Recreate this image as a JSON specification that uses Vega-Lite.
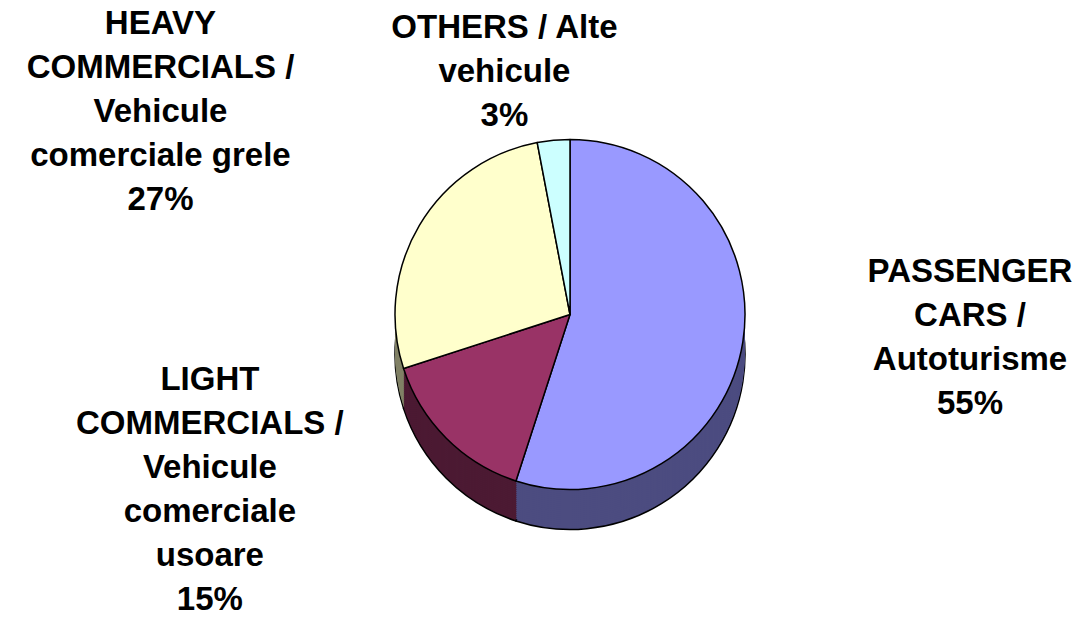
{
  "$schema": "https://vega.github.io/schema/vega-lite/v6.json",
  "width": 1020,
  "height": 605,
  "autosize": "none",
  "padding": {"left": 60, "top": 12, "right": 0, "bottom": 0},
  "background": "white",
  "config": {"view": {"stroke": null}},
  "data": {
    "values": [
      {"category": "PASSENGER CARS / Autoturisme", "value": 55, "order": 1, "label": "PASSENGER\nCARS /\nAutoturisme\n55%"},
      {"category": "LIGHT COMMERCIALS / Vehicule comerciale usoare", "value": 15, "order": 2, "label": "LIGHT\nCOMMERCIALS /\nVehicule\ncomerciale\nusoare\n15%"},
      {"category": "HEAVY COMMERCIALS / Vehicule comerciale grele", "value": 27, "order": 3, "label": "HEAVY\nCOMMERCIALS /\nVehicule\ncomerciale grele\n27%"},
      {"category": "OTHERS / Alte vehicule", "value": 3, "order": 4, "label": "OTHERS / Alte\nvehicule\n3%"}
    ]
  },
  "encoding": {
    "theta": {"field": "value", "type": "quantitative", "stack": true},
    "order": {"field": "order", "type": "quantitative"}
  },
  "layer": [
    {
      "encoding": {"color": {"field": "category", "type": "nominal", "legend": null, "scale": {"domain": ["PASSENGER CARS / Autoturisme", "LIGHT COMMERCIALS / Vehicule comerciale usoare", "HEAVY COMMERCIALS / Vehicule comerciale grele", "OTHERS / Alte vehicule"], "range": ["#4C4C80", "#4C1A33", "#808066", "#668080"]}}},
      "layer": [
        {"mark": {"type": "arc", "radius": 175, "yOffset": 40, "stroke": "black", "strokeWidth": 1.5, "strokeJoin": "round"}},
        {"mark": {"type": "arc", "radius": 175, "yOffset": 38, "strokeWidth": 0}},
        {"mark": {"type": "arc", "radius": 175, "yOffset": 36, "strokeWidth": 0}},
        {"mark": {"type": "arc", "radius": 175, "yOffset": 34, "strokeWidth": 0}},
        {"mark": {"type": "arc", "radius": 175, "yOffset": 32, "strokeWidth": 0}},
        {"mark": {"type": "arc", "radius": 175, "yOffset": 30, "strokeWidth": 0}},
        {"mark": {"type": "arc", "radius": 175, "yOffset": 28, "strokeWidth": 0}},
        {"mark": {"type": "arc", "radius": 175, "yOffset": 26, "strokeWidth": 0}},
        {"mark": {"type": "arc", "radius": 175, "yOffset": 24, "strokeWidth": 0}},
        {"mark": {"type": "arc", "radius": 175, "yOffset": 22, "strokeWidth": 0}},
        {"mark": {"type": "arc", "radius": 175, "yOffset": 20, "strokeWidth": 0}},
        {"mark": {"type": "arc", "radius": 175, "yOffset": 18, "strokeWidth": 0}},
        {"mark": {"type": "arc", "radius": 175, "yOffset": 16, "strokeWidth": 0}},
        {"mark": {"type": "arc", "radius": 175, "yOffset": 14, "strokeWidth": 0}},
        {"mark": {"type": "arc", "radius": 175, "yOffset": 12, "strokeWidth": 0}},
        {"mark": {"type": "arc", "radius": 175, "yOffset": 10, "strokeWidth": 0}},
        {"mark": {"type": "arc", "radius": 175, "yOffset": 8, "strokeWidth": 0}},
        {"mark": {"type": "arc", "radius": 175, "yOffset": 6, "strokeWidth": 0}},
        {"mark": {"type": "arc", "radius": 175, "yOffset": 4, "strokeWidth": 0}},
        {"mark": {"type": "arc", "radius": 175, "yOffset": 2, "strokeWidth": 0}}
      ]
    },
    {
      "mark": {"type": "arc", "radius": 175, "stroke": "black", "strokeWidth": 1.5, "strokeJoin": "round"},
      "encoding": {"fill": {"field": "category", "type": "nominal", "legend": null, "scale": {"domain": ["PASSENGER CARS / Autoturisme", "LIGHT COMMERCIALS / Vehicule comerciale usoare", "HEAVY COMMERCIALS / Vehicule comerciale grele", "OTHERS / Alte vehicule"], "range": ["#9999FF", "#993366", "#FFFFCC", "#CCFFFF"]}}}
    },
    {
      "mark": {"type": "text", "radius": 405, "dy": -106, "font": "Liberation Sans", "fontWeight": "bold", "fontSize": 33, "lineHeight": 44, "lineBreak": "\n", "align": "center", "baseline": "middle", "fill": "black"},
      "encoding": {"text": {"condition": {"test": "datum.order == 1", "field": "label"}, "value": ""}}
    },
    {
      "mark": {"type": "text", "radius": 300, "dx": -148, "dy": -147, "font": "Liberation Sans", "fontWeight": "bold", "fontSize": 33, "lineHeight": 44, "lineBreak": "\n", "align": "center", "baseline": "middle", "fill": "black"},
      "encoding": {"text": {"condition": {"test": "datum.order == 2", "field": "label"}, "value": ""}}
    },
    {
      "mark": {"type": "text", "radius": 420, "dx": -48, "dy": -77, "font": "Liberation Sans", "fontWeight": "bold", "fontSize": 33, "lineHeight": 44, "lineBreak": "\n", "align": "center", "baseline": "middle", "fill": "black"},
      "encoding": {"text": {"condition": {"test": "datum.order == 3", "field": "label"}, "value": ""}}
    },
    {
      "mark": {"type": "text", "radius": 240, "dx": -43, "dy": -48, "font": "Liberation Sans", "fontWeight": "bold", "fontSize": 33, "lineHeight": 44, "lineBreak": "\n", "align": "center", "baseline": "middle", "fill": "black"},
      "encoding": {"text": {"condition": {"test": "datum.order == 4", "field": "label"}, "value": ""}}
    }
  ]
}
